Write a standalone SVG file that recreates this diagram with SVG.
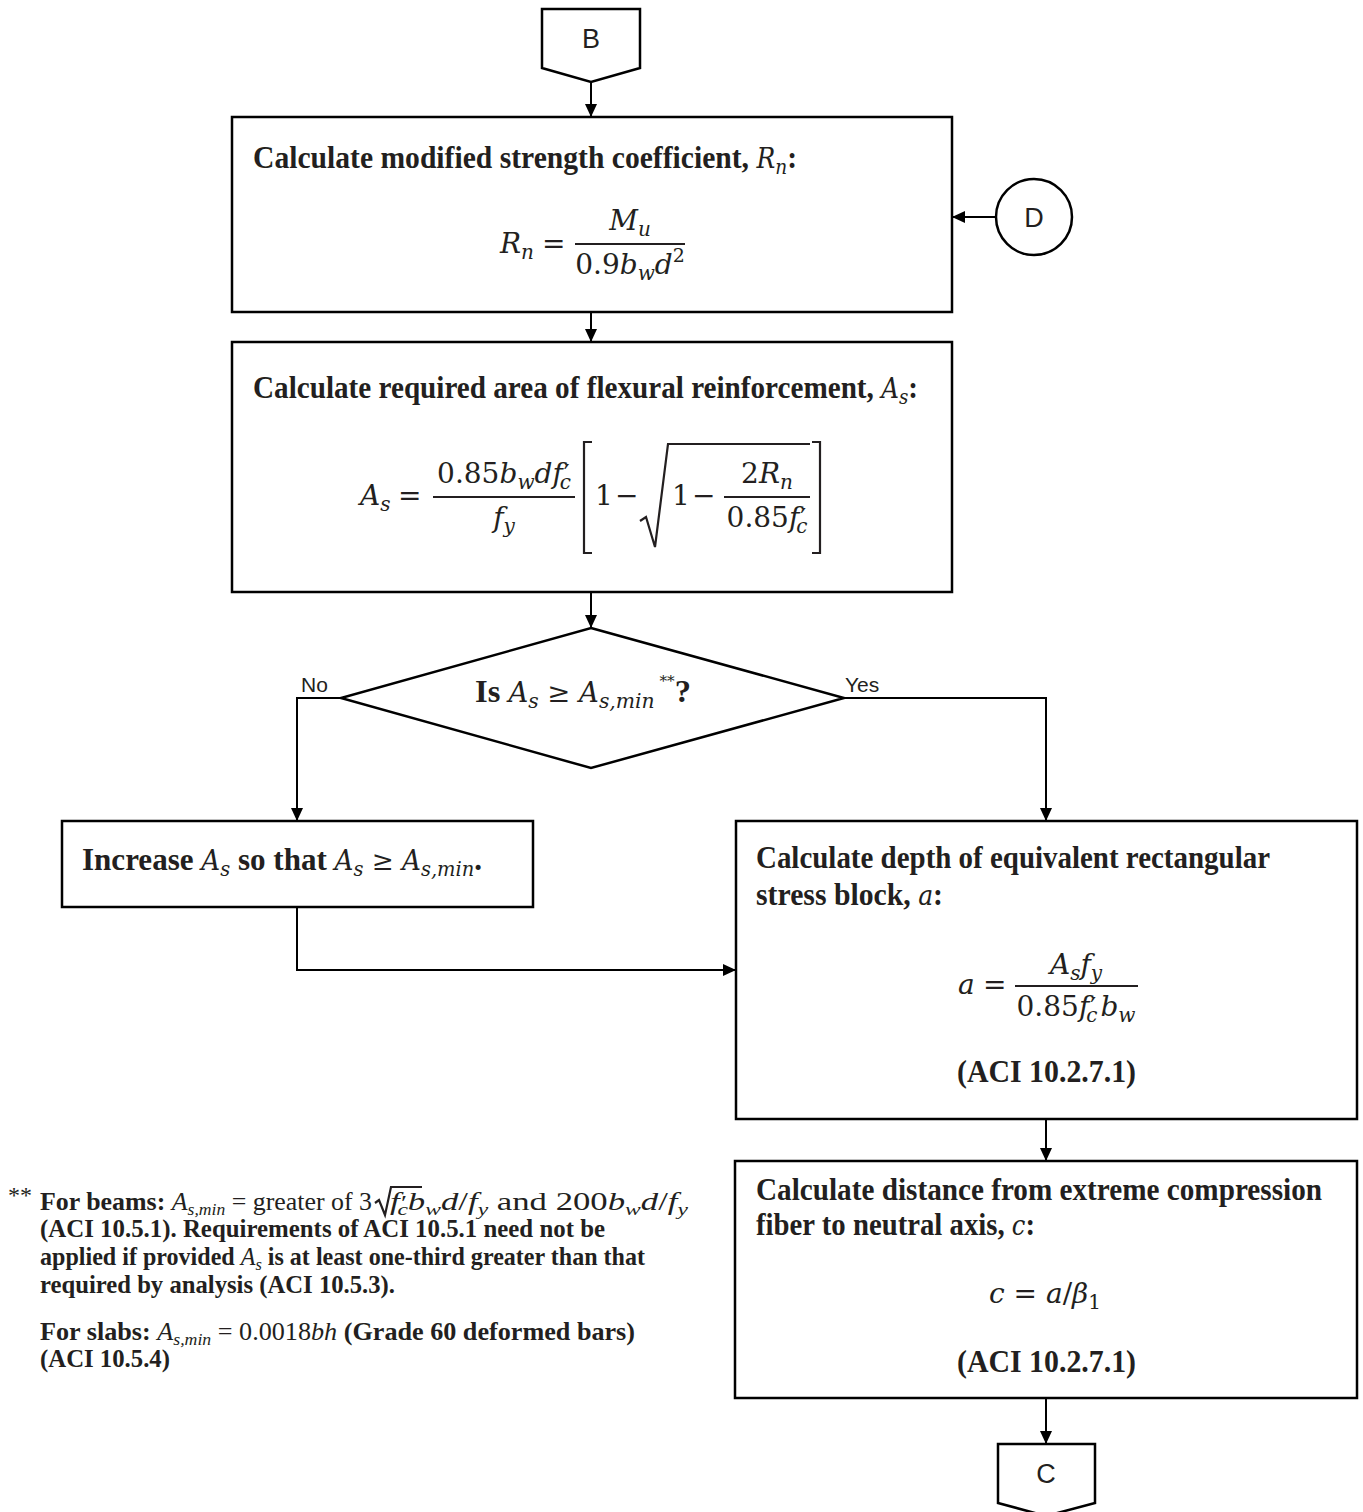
<svg xmlns="http://www.w3.org/2000/svg" width="1363" height="1512" viewBox="0 0 1363 1512">
<defs>
<style>
.box{fill:#fff;stroke:#000;stroke-width:2.5}
.ln{fill:none;stroke:#000;stroke-width:2}
.bar{fill:none;stroke:#231f20;stroke-width:2.2}
.t{font-family:"Liberation Serif",serif;font-weight:bold;font-size:32px;fill:#231f20}
.f{font-family:"Liberation Serif",serif;font-weight:bold;font-size:25px;fill:#231f20}
.fm{font-family:"Liberation Serif",serif;font-weight:normal;font-size:24px;fill:#231f20}
.im{font-family:"DejaVu Serif",serif;font-style:italic;font-weight:normal}
.rm{font-family:"DejaVu Serif",serif;font-style:normal;font-weight:normal}
.it{font-style:italic;font-weight:normal}
.nm{font-style:normal;font-weight:normal}
.eq{font-family:"DejaVu Serif",serif;font-size:28px;fill:#231f20}
.i{font-style:italic}
.s{font-family:"Liberation Sans",sans-serif;font-size:27px;fill:#231f20}
.lb{font-family:"Liberation Sans",sans-serif;font-size:21px;fill:#231f20}
</style>
<marker id="ah" markerWidth="13" markerHeight="12" refX="13" refY="6" orient="auto" markerUnits="userSpaceOnUse"><path d="M0,0 L13,6 L0,12 z" fill="#000"/></marker>
</defs>
<rect width="1363" height="1512" fill="#fff"/>

<g id="connectors">
<line class="ln" x1="591" y1="82" x2="591" y2="117" marker-end="url(#ah)"/>
<line class="ln" x1="996" y1="217" x2="952" y2="217" marker-end="url(#ah)"/>
<line class="ln" x1="591" y1="312" x2="591" y2="342" marker-end="url(#ah)"/>
<line class="ln" x1="591" y1="592" x2="591" y2="628" marker-end="url(#ah)"/>
<polyline class="ln" points="341,698 297,698 297,821" marker-end="url(#ah)"/>
<polyline class="ln" points="844,698 1046,698 1046,821" marker-end="url(#ah)"/>
<polyline class="ln" points="297,907 297,970 736,970" marker-end="url(#ah)"/>
<line class="ln" x1="1046" y1="1119" x2="1046" y2="1161" marker-end="url(#ah)"/>
<line class="ln" x1="1046" y1="1398" x2="1046" y2="1444" marker-end="url(#ah)"/>
<text class="lb" x="301" y="692">No</text>
<text class="lb" x="845" y="692">Yes</text>
</g>

<g id="nodeB">
<polygon class="box" points="542,9 640,9 640,68 591,82 542,68"/>
<text class="s" x="591" y="48" text-anchor="middle">B</text>
</g>

<g id="nodeD">
<circle class="box" cx="1034" cy="217" r="38"/>
<text class="s" x="1034" y="227" text-anchor="middle">D</text>
</g>

<g id="box1">
<rect class="box" x="232" y="117" width="720" height="195"/>
<text class="t" x="253" y="168" textLength="544" lengthAdjust="spacingAndGlyphs">Calculate modified strength coefficient, <tspan class="im" font-size="27">R</tspan><tspan class="im" font-size="20" dy="6">n</tspan><tspan dy="-6">:</tspan></text>
<text class="eq" x="500" y="253"><tspan class="i">R</tspan><tspan class="i" font-size="20" dy="6">n</tspan></text>
<text class="eq" x="542" y="253">=</text>
<text class="eq" x="630" y="230" text-anchor="middle"><tspan class="i">M</tspan><tspan class="i" font-size="20" dy="6">u</tspan></text>
<line class="bar" x1="575" y1="244" x2="685" y2="244"/>
<text class="eq" x="630" y="274" text-anchor="middle">0.9<tspan class="i">b</tspan><tspan class="i" font-size="20" dy="6">w</tspan><tspan class="i" dy="-6">d</tspan><tspan font-size="19" dy="-12">2</tspan></text>
</g>

<g id="box2">
<rect class="box" x="232" y="342" width="720" height="250"/>
<text class="t" x="253" y="398" textLength="665" lengthAdjust="spacingAndGlyphs">Calculate required area of flexural reinforcement, <tspan class="im" font-size="27">A</tspan><tspan class="im" font-size="20" dy="6">s</tspan><tspan dy="-6">:</tspan></text>
<text class="eq" x="360" y="505"><tspan class="i">A</tspan><tspan class="i" font-size="20" dy="6">s</tspan></text>
<text class="eq" x="398" y="505">=</text>
<text class="eq" x="504" y="483" text-anchor="middle">0.85<tspan class="i">b</tspan><tspan class="i" font-size="20" dy="6">w</tspan><tspan class="i" dy="-6">df</tspan><tspan font-size="26" dx="1">′</tspan><tspan class="i" font-size="20" dx="-10" dy="6">c</tspan></text>
<line class="bar" x1="433" y1="497" x2="575" y2="497"/>
<text class="eq" x="504" y="527" text-anchor="middle"><tspan class="i">f</tspan><tspan class="i" font-size="20" dy="6">y</tspan></text>
<path class="bar" d="M592,442 H584 V553 H592"/>
<text class="eq" x="595" y="505">1</text>
<text class="eq" x="615" y="505">−</text>
<path class="bar" d="M640,521 L646,517 L655,547 L668,444 H810"/>
<text class="eq" x="672" y="505">1</text>
<text class="eq" x="692" y="505">−</text>
<text class="eq" x="767" y="483" text-anchor="middle">2<tspan class="i">R</tspan><tspan class="i" font-size="20" dy="6">n</tspan></text>
<line class="bar" x1="724" y1="497" x2="810" y2="497"/>
<text class="eq" x="767" y="527" text-anchor="middle">0.85<tspan class="i">f</tspan><tspan font-size="26" dx="1">′</tspan><tspan class="i" font-size="20" dx="-10" dy="6">c</tspan></text>
<path class="bar" d="M812,442 H820 V553 H812"/>
</g>

<g id="decision">
<polygon class="box" points="591,628 844,698 591,768 341,698"/>
<text class="t" x="475" y="702" textLength="216" lengthAdjust="spacingAndGlyphs">Is <tspan class="im" font-size="27">A</tspan><tspan class="im" font-size="20" dy="6">s</tspan><tspan class="rm" font-size="27" dy="-6"> ≥ </tspan><tspan class="im" font-size="27">A</tspan><tspan class="im" font-size="20" dy="6">s,min</tspan><tspan class="rm" font-size="15" dy="-22"> **</tspan><tspan dy="16">?</tspan></text>
</g>

<g id="increase">
<rect class="box" x="62" y="821" width="471" height="86"/>
<text class="t" x="82" y="870" textLength="400" lengthAdjust="spacingAndGlyphs">Increase <tspan class="im" font-size="27">A</tspan><tspan class="im" font-size="20" dy="6">s</tspan><tspan dy="-6"> so that </tspan><tspan class="im" font-size="27">A</tspan><tspan class="im" font-size="20" dy="6">s</tspan><tspan class="rm" font-size="27" dy="-6"> ≥ </tspan><tspan class="im" font-size="27">A</tspan><tspan class="im" font-size="20" dy="6">s,min</tspan><tspan dy="-6">.</tspan></text>
</g>

<g id="boxA">
<rect class="box" x="736" y="821" width="621" height="298"/>
<text class="t" x="756" y="868" textLength="514" lengthAdjust="spacingAndGlyphs">Calculate depth of equivalent rectangular</text>
<text class="t" x="756" y="905" textLength="187" lengthAdjust="spacingAndGlyphs">stress block, <tspan class="im" font-size="27">a</tspan>:</text>
<text class="eq" x="958" y="994"><tspan class="i">a</tspan></text>
<text class="eq" x="983" y="994">=</text>
<text class="eq" x="1076" y="974" text-anchor="middle"><tspan class="i">A</tspan><tspan class="i" font-size="20" dy="6">s</tspan><tspan class="i" dy="-6">f</tspan><tspan class="i" font-size="20" dy="6">y</tspan></text>
<line class="bar" x1="1015" y1="986" x2="1138" y2="986"/>
<text class="eq" x="1076" y="1016" text-anchor="middle">0.85<tspan class="i">f</tspan><tspan font-size="26" dx="1">′</tspan><tspan class="i" font-size="20" dx="-10" dy="6">c</tspan><tspan class="i" dx="3" dy="-6">b</tspan><tspan class="i" font-size="20" dy="6">w</tspan></text>
<text class="t" x="957" y="1082" textLength="179" lengthAdjust="spacingAndGlyphs">(ACI 10.2.7.1)</text>
</g>

<g id="boxC">
<rect class="box" x="735" y="1161" width="622" height="237"/>
<text class="t" x="756" y="1200" font-size="30" textLength="566" lengthAdjust="spacingAndGlyphs">Calculate distance from extreme compression</text>
<text class="t" x="756" y="1235" textLength="279" lengthAdjust="spacingAndGlyphs">fiber to neutral axis, <tspan class="im" font-size="27">c</tspan>:</text>
<text class="eq" x="1045" y="1303" text-anchor="middle"><tspan class="i">c</tspan> = <tspan class="i">a</tspan>/<tspan class="i">β</tspan><tspan font-size="20" dy="6">1</tspan></text>
<text class="t" x="957" y="1372" textLength="179" lengthAdjust="spacingAndGlyphs">(ACI 10.2.7.1)</text>
</g>

<g id="nodeC">
<polygon class="box" points="998,1444 1095,1444 1095,1503 1046,1516 998,1503"/>
<text class="s" x="1046" y="1483" text-anchor="middle">C</text>
</g>

<g id="footnote">
<text class="fm" x="8" y="1203" font-size="17">**</text>
<text class="f" x="40" y="1210" textLength="332" lengthAdjust="spacingAndGlyphs">For beams: <tspan class="it">A</tspan><tspan class="it" font-size="17" dy="5">s,min</tspan><tspan class="nm" dy="-5"> = greater of 3</tspan></text>
<path class="bar" stroke-width="1.6" d="M375,1203 L379,1200 L385,1215 L391,1187 H422"/>
<text class="f" x="390" y="1210" textLength="298" lengthAdjust="spacingAndGlyphs"><tspan class="it">f</tspan><tspan class="nm" font-size="20" dx="1">′</tspan><tspan class="it" font-size="17" dx="-7" dy="5">c</tspan><tspan class="it" dy="-5">b</tspan><tspan class="it" font-size="17" dy="5">w</tspan><tspan class="it" dy="-5">d</tspan><tspan class="nm">/</tspan><tspan class="it">f</tspan><tspan class="it" font-size="17" dy="5">y</tspan><tspan class="nm" dy="-5"> and 200</tspan><tspan class="it">b</tspan><tspan class="it" font-size="17" dy="5">w</tspan><tspan class="it" dy="-5">d</tspan><tspan class="nm">/</tspan><tspan class="it">f</tspan><tspan class="it" font-size="17" dy="5">y</tspan></text>
<text class="f" x="40" y="1237" textLength="565" lengthAdjust="spacingAndGlyphs">(ACI 10.5.1). Requirements of ACI 10.5.1 need not be</text>
<text class="f" x="40" y="1265" textLength="605" lengthAdjust="spacingAndGlyphs">applied if provided <tspan class="it">A</tspan><tspan class="it" font-size="17" dy="5">s</tspan><tspan dy="-5"> is at least one-third greater than that</tspan></text>
<text class="f" x="40" y="1293" textLength="355" lengthAdjust="spacingAndGlyphs">required by analysis (ACI 10.5.3).</text>
<text class="f" x="40" y="1340" textLength="595" lengthAdjust="spacingAndGlyphs">For slabs: <tspan class="it">A</tspan><tspan class="it" font-size="17" dy="5">s,min</tspan><tspan class="nm" dy="-5"> = 0.0018</tspan><tspan class="it">bh</tspan> (Grade 60 deformed bars)</text>
<text class="f" x="40" y="1367" textLength="130" lengthAdjust="spacingAndGlyphs">(ACI 10.5.4)</text>
</g>
</svg>
